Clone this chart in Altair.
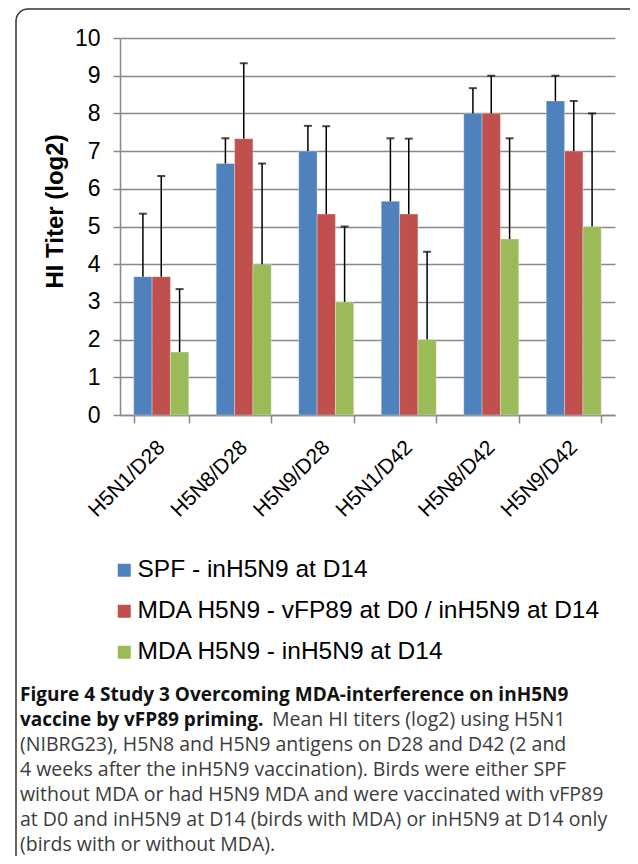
import altair as alt
import pandas as pd

groups = ["H5N1/D28", "H5N8/D28", "H5N9/D28", "H5N1/D42", "H5N8/D42", "H5N9/D42"]
series = [
    "SPF - inH5N9 at D14",
    "MDA H5N9 - vFP89 at D0 / inH5N9 at D14",
    "MDA H5N9 - inH5N9 at D14",
]
colors = ["#4F81BD", "#C0504D", "#9BBB59"]

spf = [3.67, 6.67, 7.0, 5.67, 8.0, 8.33]
spf_sd = [1.67, 0.67, 0.67, 1.67, 0.67, 0.67]
mda_vfp = [3.67, 7.33, 5.33, 5.33, 8.0, 7.0]
mda_vfp_sd = [2.67, 2.0, 2.33, 2.0, 1.0, 1.33]
mda_in = [1.67, 4.0, 3.0, 2.0, 4.67, 5.0]
mda_in_sd = [1.67, 2.67, 2.0, 2.33, 2.67, 3.0]

y_ticks = [0, 1, 2, 3, 4, 5, 6, 7, 8, 9, 10]

caption_bold_1 = "Figure 4 Study 3 Overcoming MDA-interference on inH5N9"
caption_bold_2 = "vaccine by vFP89 priming."
caption_rest_2 = "Mean HI titers (log2) using H5N1"
caption_lines = [
    "(NIBRG23), H5N8 and H5N9 antigens on D28 and D42 (2 and",
    "4 weeks after the inH5N9 vaccination). Birds were either SPF",
    "without MDA or had H5N9 MDA and were vaccinated with vFP89",
    "at D0 and inH5N9 at D14 (birds with MDA) or inH5N9 at D14 only",
    "(birds with or without MDA).",
]

rows = []
for s, vals, sds in zip(series, [spf, mda_vfp, mda_in], [spf_sd, mda_vfp_sd, mda_in_sd]):
    for g, v, sd in zip(groups, vals, sds):
        rows.append({"group": g, "series": s, "value": v, "sd": sd})
df = pd.DataFrame(rows)

GRAY = "#888888"
FONT = "Liberation Sans"

y_scale = alt.Scale(domain=[0, 10], nice=False)
y_axis = alt.Axis(
    title="HI Titer (log2)",
    values=y_ticks,
    tickCount=len(y_ticks) + 1,
    labelOverlap=False,
    labelFlush=False,
    grid=True,
    gridColor=GRAY,
    gridWidth=1.5,
    domainColor=GRAY,
    domainWidth=1.5,
    tickColor=GRAY,
    tickWidth=1.5,
    tickSize=7,
    labelFont=FONT,
    labelFontSize=23,
    labelColor="black",
    labelPadding=13,
    titleFont=FONT,
    titleFontSize=24,
    titleFontWeight="bold",
    titleColor="black",
    titleX=-65,
    titleY=173,
    titleBaseline="middle",
)

base = alt.Chart(df).transform_calculate(top="datum.value + datum.sd").encode(
    x=alt.X(
        "group:N",
        sort=groups,
        scale=alt.Scale(paddingInner=0.333, paddingOuter=0.1665),
        axis=alt.Axis(
            title=None,
            labelAngle=-45,
            labelAlign="right",
            labelBaseline="middle",
            labelFont=FONT,
            labelFontSize=21,
            labelColor="black",
            tickBand="extent",
            tickSize=8,
            tickColor=GRAY,
            tickWidth=1.5,
            domainColor=GRAY,
            domainWidth=1.5,
            labelPadding=21,
            grid=False,
        ),
    ),
    xOffset=alt.XOffset("series:N", sort=series, scale=alt.Scale(paddingInner=0, paddingOuter=0)),
)

bars = base.mark_bar(stroke="white", strokeOpacity=0.5, strokeWidth=0.6).encode(
    y=alt.Y("value:Q", scale=y_scale, axis=y_axis),
    color=alt.Color(
        "series:N",
        sort=series,
        scale=alt.Scale(domain=series, range=colors),
        legend=alt.Legend(
            title=None,
            orient="none",
            legendX=-8,
            legendY=520,
            labelFont=FONT,
            labelFontSize=24.5,
            labelColor="black",
            symbolType="square",
            symbolSize=169,
            symbolStrokeWidth=0,
            symbolOpacity=1,
            rowPadding=16,
            labelOffset=1,
            padding=0,
            labelLimit=600,
        ),
    ),
)

rules = base.mark_rule(color="black", strokeWidth=1.5).encode(
    y=alt.Y("value:Q", scale=y_scale, axis=y_axis), y2="top:Q"
)
caps = base.mark_tick(color="black", size=8, thickness=2, orient="horizontal").encode(
    y=alt.Y("top:Q", scale=y_scale, axis=y_axis)
)

one = pd.DataFrame({"a": [0]})
border = alt.Chart(one).mark_rect(
    fillOpacity=0, stroke="#333333", strokeWidth=1.5, cornerRadius=12
).encode(x=alt.value(-104), x2=alt.value(530), y=alt.value(-29), y2=alt.value(860))

CAP_FONT = "Open Sans"
BOLD_SIZE = 19
CAP_SIZE = 19.5
y0 = 657
dy = 25
cap_layers = [
    alt.Chart(one).mark_text(
        text=caption_bold_1, font=CAP_FONT, fontSize=BOLD_SIZE, fontWeight="bold",
        color="#111111", align="left", baseline="middle",
    ).encode(x=alt.value(-100), y=alt.value(y0)),
    alt.Chart(one).mark_text(
        text=caption_bold_2, font=CAP_FONT, fontSize=BOLD_SIZE, fontWeight="bold",
        color="#111111", align="left", baseline="middle",
    ).encode(x=alt.value(-100), y=alt.value(y0 + dy)),
    alt.Chart(one).mark_text(
        text=caption_rest_2, font=CAP_FONT, fontSize=CAP_SIZE,
        color="#3c3c3c", align="left", baseline="middle",
    ).encode(x=alt.value(152), y=alt.value(y0 + dy)),
]
for i, line in enumerate(caption_lines):
    cap_layers.append(
        alt.Chart(one).mark_text(
            text=line, font=CAP_FONT, fontSize=CAP_SIZE,
            color="#3c3c3c", align="left", baseline="middle",
        ).encode(x=alt.value(-100), y=alt.value(y0 + dy * (i + 2)))
    )

chart = alt.layer(bars, rules, caps, border, *cap_layers).properties(
    width=495,
    height=377,
    autosize=alt.AutoSizeParams(type="none"),
    padding={"left": 112, "top": 30, "right": 15, "bottom": 441},
    background="white",
).configure_view(strokeWidth=0)

chart.save("out.html", embed_options={"renderer": "svg", "actions": False})
